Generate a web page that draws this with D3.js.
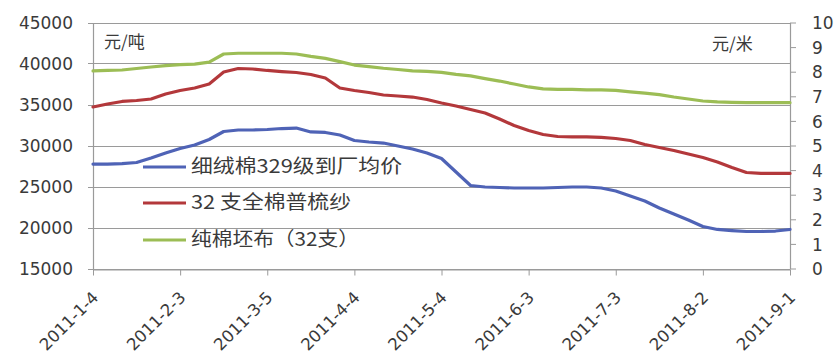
<!DOCTYPE html>
<html>
<head>
<meta charset="utf-8">
<script src="https://cdn.jsdelivr.net/npm/d3@7/dist/d3.min.js"></script>
<style>
  html, body { margin: 0; padding: 0; background: #fff; }
  svg { display: block; }
  .tick-label { font-family: "DejaVu Sans", sans-serif; font-size: 17px; fill: #3a3a3a; }
  .date-label { font-family: "DejaVu Sans", sans-serif; font-size: 16.5px; fill: #3a3a3a; }
  .cjk { font-family: "Noto Sans CJK SC", sans-serif; fill: #3a3a3a; }
</style>
</head>
<body>
<svg id="chart" width="837" height="358"></svg>
<script>
// Observation dates: every 5 days starting 2011-01-04
const startDate = "2011-01-04";
const stepDays = 5;
const pointCount = 49;

// 细绒棉329级到厂均价 (元/吨, left axis)
const cottonValues = [
  27740, 27740, 27800, 27930, 28480, 29080, 29630, 30060, 30730, 31710,
  31890, 31890, 31950, 32070, 32130, 31650, 31590, 31280, 30610, 30430,
  30300, 29940, 29570, 29080, 28410, 26770, 25120, 24940, 24880, 24820,
  24820, 24820, 24880, 24940, 24940, 24820, 24450, 23840, 23230, 22380,
  21650, 20910, 20120, 19760, 19630, 19510, 19510, 19570, 19760
];

// 32 支全棉普梳纱 (元/吨, left axis)
const yarnValues = [
  34700, 35060, 35370, 35490, 35670, 36280, 36710, 37010, 37500, 38960,
  39390, 39330, 39150, 39020, 38900, 38660, 38230, 37010, 36710, 36460,
  36160, 36040, 35910, 35610, 35180, 34820, 34390, 33960, 33230, 32440,
  31830, 31340, 31100, 31040, 31040, 31000, 30850, 30610, 30120, 29760,
  29390, 28960, 28540, 27990, 27320, 26710, 26590, 26590, 26590
];

// 纯棉坯布（32支） (元/米, right axis)
const clothValues = [
  8.03, 8.05, 8.07, 8.13, 8.19, 8.25, 8.29, 8.31, 8.39, 8.72,
  8.75, 8.75, 8.75, 8.75, 8.72, 8.62, 8.54, 8.41, 8.27, 8.21,
  8.14, 8.09, 8.03, 8.01, 7.97, 7.89, 7.83, 7.72, 7.62, 7.50,
  7.38, 7.30, 7.28, 7.28, 7.26, 7.26, 7.24, 7.18, 7.13, 7.07,
  6.97, 6.89, 6.81, 6.77, 6.75, 6.74, 6.74, 6.74, 6.74
];

const seriesNames = ["细绒棉329级到厂均价", "32 支全棉普梳纱", "纯棉坯布（32支）"];
const seriesColors = ["#4f63b6", "#b3383b", "#9cbd55"];

const xTickLabels = ["2011-1-4", "2011-2-3", "2011-3-5", "2011-4-4", "2011-5-4",
                     "2011-6-3", "2011-7-3", "2011-8-2", "2011-9-1"];
const leftTicks = [15000, 20000, 25000, 30000, 35000, 40000, 45000];
const rightTicks = [0, 1, 2, 3, 4, 5, 6, 7, 8, 9, 10];
const leftUnit = "元/吨";
const rightUnit = "元/米";

const parse = d3.timeParse("%Y-%m-%d");
const t0 = parse(startDate);
const dates = d3.range(pointCount).map(i => d3.timeDay.offset(t0, i * stepDays));
const tickDates = xTickLabels.map(s => parse(s));

const svg = d3.select("#chart");
const plot = { left: 93, right: 790, top: 22.5, bottom: 268.5 };

const x = d3.scaleTime()
  .domain([tickDates[0], tickDates[tickDates.length - 1]])
  .range([plot.left, plot.right]);
const yLeft = d3.scaleLinear().domain([15000, 45000]).range([plot.bottom, plot.top]);
const yRight = d3.scaleLinear().domain([0, 10]).range([plot.bottom, plot.top]);

// Horizontal gridlines (extend a few px left as tick marks)
svg.append("g")
  .selectAll("line")
  .data(leftTicks)
  .join("line")
  .attr("x1", plot.left - 5)
  .attr("x2", plot.right)
  .attr("y1", d => Math.round(yLeft(d)) + 0.5)
  .attr("y2", d => Math.round(yLeft(d)) + 0.5)
  .attr("stroke", "#9a9a9a")
  .attr("stroke-width", 1.2);

// Left axis
const leftAxis = svg.append("g")
  .attr("transform", `translate(${plot.left},0)`)
  .call(d3.axisLeft(yLeft).tickValues(leftTicks).tickSize(0).tickPadding(20).tickFormat(d3.format("d")));
leftAxis.select(".domain").attr("stroke", "#9a9a9a").attr("stroke-width", 1.2);
leftAxis.selectAll("text").attr("class", "tick-label").attr("dy", "0.36em");

// Right axis
const rightAxis = svg.append("g")
  .attr("transform", `translate(${plot.right},0)`)
  .call(d3.axisRight(yRight).tickValues(rightTicks).tickSize(6).tickSizeOuter(0).tickPadding(16));
rightAxis.select(".domain").attr("stroke", "#9a9a9a").attr("stroke-width", 1.2);
rightAxis.selectAll(".tick line").attr("stroke", "#9a9a9a");
rightAxis.selectAll("text").attr("class", "tick-label").attr("dy", "0.36em");

// Bottom axis with rotated date labels
const bottomAxis = svg.append("g")
  .attr("transform", `translate(0,${Math.round(plot.bottom) + 0.5})`)
  .call(d3.axisBottom(x).tickValues(tickDates).tickSize(6).tickSizeOuter(0).tickFormat((d, i) => xTickLabels[i]));
bottomAxis.select(".domain").attr("stroke", "#9a9a9a").attr("stroke-width", 1.2);
bottomAxis.selectAll(".tick line").attr("stroke", "#9a9a9a");
bottomAxis.selectAll("text")
  .attr("class", "date-label")
  .attr("text-anchor", "end")
  .attr("dy", null)
  .attr("y", null)
  .attr("transform", "translate(6,29) rotate(-45)");

// Series lines
const leftLine = d3.line().x((d, i) => x(dates[i])).y(d => yLeft(d));
const rightLine = d3.line().x((d, i) => x(dates[i])).y(d => yRight(d));

const lines = [
  { values: cottonValues, gen: leftLine },
  { values: yarnValues, gen: leftLine },
  { values: clothValues, gen: rightLine }
];
svg.append("g")
  .selectAll("path")
  .data(lines)
  .join("path")
  .attr("d", d => d.gen(d.values))
  .attr("fill", "none")
  .attr("stroke", (d, i) => seriesColors[i])
  .attr("stroke-width", 3.2)
  .attr("stroke-linejoin", "round")
  .attr("stroke-linecap", "round");

// Unit labels
svg.append("text").attr("class", "cjk").attr("x", 104).attr("y", 48)
  .style("font-size", "17px").text(leftUnit);
svg.append("text").attr("class", "cjk").attr("x", 712).attr("y", 50)
  .style("font-size", "17px").text(rightUnit);

// Legend
const legendRows = [167, 203, 240];
const legendWidths = [211, 160, 168];
const legend = svg.append("g");
legend.selectAll("line")
  .data(seriesNames)
  .join("line")
  .attr("x1", 143).attr("x2", 186)
  .attr("y1", (d, i) => legendRows[i]).attr("y2", (d, i) => legendRows[i])
  .attr("stroke", (d, i) => seriesColors[i])
  .attr("stroke-width", 3);
legend.selectAll("text")
  .data(seriesNames)
  .join("text")
  .attr("class", "cjk")
  .attr("x", 191)
  .attr("y", (d, i) => legendRows[i] + 6)
  .attr("textLength", (d, i) => legendWidths[i])
  .attr("lengthAdjust", "spacingAndGlyphs")
  .style("font-size", "19px")
  .text(d => d);
</script>
</body>
</html>
